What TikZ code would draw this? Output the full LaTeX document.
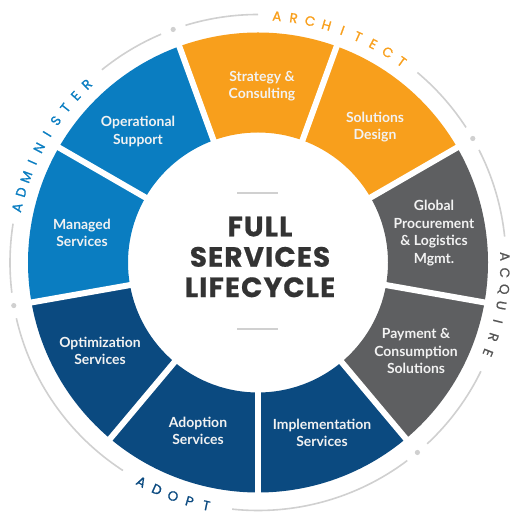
\documentclass[tikz,border=0pt]{standalone}
\usepackage{fontspec}
\setmainfont{Lato}
\newfontfamily\pop{Poppins}[FakeBold=1.0]
\newfontfamily\poptitle{Poppins}[LetterSpace=4,FakeBold=0.6]
\definecolor{cOrange}{HTML}{F89F1C}
\definecolor{cGray}{HTML}{5E5F61}
\definecolor{cNavy}{HTML}{0B4A80}
\definecolor{cBlue}{HTML}{0A7DC1}
\definecolor{cRing}{HTML}{D0D0D0}
\definecolor{cTitle}{HTML}{333333}
\definecolor{segwhite}{HTML}{F2F2F2}
\definecolor{cAcq}{HTML}{555555}
\begin{document}
\begin{tikzpicture}[x=1bp,y=1bp,
  segtext/.style={text=segwhite, align=center, font=\bfseries\fontsize{14}{17.5}\selectfont, inner sep=0pt},
  grp/.style={font=\pop\fontsize{13.5}{13.5}\selectfont, inner sep=0pt},
  ring/.style={draw=cRing, line width=1.6bp},
  gapline/.style={draw=white, line width=6bp},
  divider/.style={draw=cRing, line width=1.6bp}]
\useasboundingbox (0,0) rectangle (510,512);
\coordinate (C) at (258,249.5);
\begin{scope}[shift={(C)}]
  % segments
  \foreach \a/\b/\c in {110/70/cOrange, 70/30/cOrange, 30/-10/cGray, -10/-50/cGray, -50/-90/cNavy, -90/-130/cNavy, -130/-170/cNavy, 190/150/cBlue, 150/110/cBlue}
    \fill[\c] (\a:230) arc[start angle=\a, end angle=\b, radius=230] -- (\b:130) arc[start angle=\b, end angle=\a, radius=130] -- cycle;
  \foreach \a in {110,70,30,-10,-50,-90,-130,-170,150}
    \draw[gapline] (\a:125) -- (\a:236);
  % outer ring pieces
  \foreach \a/\b in {107/90, 50/33, 27/6, -26/-47, -53/-96, -123/-167, 187/171, 129/113}
    \draw[ring] (\a:248) arc[start angle=\a, end angle=\b, radius=248];
  \foreach \a in {110,30,-50,190}
    \fill[cRing] (\a:248) circle[radius=2.6];
  % group labels
  \foreach \l [count=\i] in {A,R,C,H,I,T,E,C,T}{
    \pgfmathsetmacro\ang{70+(5-\i)*3.9}
    \node[grp, text=cOrange, rotate=\ang-90] (arch\i) at (\ang:247) {\l};}
  \foreach \l [count=\i] in {A,C,Q,U,I,R,E}{
    \pgfmathsetmacro\ang{-10+(4-\i)*3.8}
    \node[grp, text=cAcq, rotate=\ang-90] (acq\i) at (\ang:247) {\l};}
  \foreach \l [count=\i] in {A,D,O,P,T}{
    \pgfmathsetmacro\ang{-110+(\i-3)*4.0}
    \node[grp, text=cNavy, rotate=\ang+90] (adopt\i) at (\ang:248.5) {\l};}
  \foreach \l [count=\i] in {A,D,M,I,N,I,S,T,E,R}{
    \pgfmathsetmacro\ang{150.5+(5.5-\i)*3.7}
    \node[grp, text=cBlue, rotate=\ang-90] (adm\i) at (\ang:247) {\l};}
\end{scope}
% segment labels
\node[segtext] (strategy) at (262,426) {Strategy \&\\Consulting};
\node[segtext] (solutions) at (375,385) {Solutions\\Design};
\node[segtext] (global) at (434,279) {Global\\Procurement\\\& Logistics\\Mgmt.};
\node[segtext] (payment) at (416,161) {Payment \&\\Consumption\\Solutions};
\node[segtext] (implementation) at (322,79) {Implementation\\Services};
\node[segtext] (adoption) at (198,81) {Adoption\\Services};
\node[segtext] (optimization) at (100,161) {Optimization\\Services};
\node[segtext] (managed) at (82,279) {Managed\\Services};
\node[segtext] (operational) at (138,380.5) {Operational\\Support};
% centre
\draw[divider] (237,319) -- (278,319);
\draw[divider] (237,183) -- (278,183);
\node[text=cTitle, align=center, inner sep=0pt, font=\poptitle\bfseries\fontsize{28}{30.5}\selectfont] (title) at (260,255) {FULL\\SERVICES\\LIFECYCLE};
\end{tikzpicture}
\end{document}
